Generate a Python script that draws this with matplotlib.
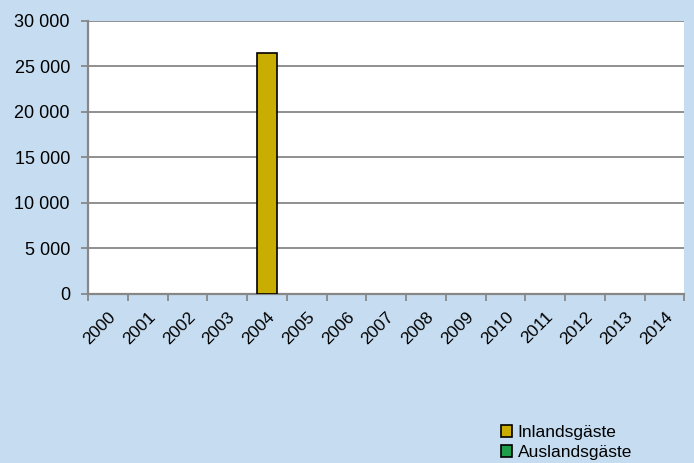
import matplotlib
matplotlib.use("Agg")
import matplotlib.pyplot as plt
import numpy as np
from matplotlib.ticker import FuncFormatter

years = [str(y) for y in range(2000, 2015)]
inland = [np.nan, np.nan, np.nan, np.nan, 26500, np.nan, np.nan, np.nan,
          np.nan, np.nan, np.nan, np.nan, np.nan, np.nan, np.nan]
ausland = [np.nan] * 15

series_names = ["Inlandsgäste", "Auslandsgäste"]
series_colors = ["#C9AD00", "#1E9E4A"]

bg = "#C6DDF1"
grid_col = "#878787"

plt.rcParams["font.family"] = ["Liberation Sans", "DejaVu Sans"]

fig = plt.figure(figsize=(6.94, 4.63), dpi=100, facecolor=bg)
ax = fig.add_axes([0.1268, 0.3657, 0.8595, 0.5896])
ax.set_facecolor("white")

x = np.arange(len(years)) + 0.5
inland_arr = np.array(inland, dtype=float)
ausland_arr = np.array(ausland, dtype=float)
ax.bar(x, inland_arr, width=0.5, color=series_colors[0], edgecolor="black",
       linewidth=1.2, label=series_names[0], zorder=3)
ax.bar(x, ausland_arr, width=0.5, bottom=np.nan_to_num(inland_arr),
       color=series_colors[1], edgecolor="black", linewidth=1.2,
       label=series_names[1], zorder=3)

ax.set_xlim(0, len(years))
ax.set_ylim(0, 30000)
ax.set_yticks(range(0, 30001, 5000))
ax.yaxis.set_major_formatter(FuncFormatter(lambda v, p: f"{int(v):,}".replace(",", " ")))
ax.grid(axis="y", color=grid_col, linewidth=1.3, zorder=1)

ax.set_xticks(np.arange(len(years) + 1))
ax.set_xticklabels([])
ax.set_xticks(x, minor=True)
ax.set_xticklabels(years, minor=True, rotation=45, ha="right", va="top",
                   rotation_mode="anchor", fontsize=12.5)
ax.tick_params(axis="x", which="minor", length=0, pad=11)
ax.tick_params(axis="x", which="major", length=5, color=grid_col, width=1.3)
ax.tick_params(axis="y", length=5, color=grid_col, width=1.3, labelsize=13, pad=8)

ax.spines["top"].set_visible(False)
ax.spines["right"].set_visible(False)
for side in ["left", "bottom"]:
    ax.spines[side].set_color(grid_col)
    ax.spines[side].set_linewidth(1.6)

handles, labels = ax.get_legend_handles_labels()
fig.legend(handles, labels, loc="upper left", bbox_to_anchor=(0.722, 0.082),
           frameon=False, fontsize=12.5, handlelength=0.65, handleheight=0.65,
           handletextpad=0.3, labelspacing=0.28, borderpad=0, borderaxespad=0)

fig.savefig("out.png", dpi=100, facecolor=bg)
